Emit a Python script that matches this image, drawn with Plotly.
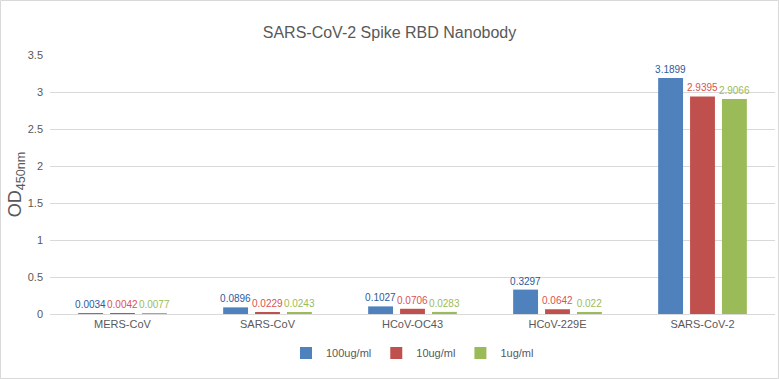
import plotly.graph_objects as go

categories = ["MERS-CoV", "SARS-CoV", "HCoV-OC43", "HCoV-229E", "SARS-CoV-2"]
series_names = ["100ug/ml", "10ug/ml", "1ug/ml"]
v100 = [0.0034, 0.0896, 0.1027, 0.3297, 3.1899]
v10 = [0.0042, 0.0229, 0.0706, 0.0642, 2.9395]
v1 = [0.0077, 0.0243, 0.0283, 0.022, 2.9066]
labels100 = ["0.0034", "0.0896", "0.1027", "0.3297", "3.1899"]
labels10 = ["0.0042", "0.0229", "0.0706", "0.0642", "2.9395"]
labels1 = ["0.0077", "0.0243", "0.0283", "0.022", "2.9066"]
ytick_vals = [0, 0.5, 1, 1.5, 2, 2.5, 3, 3.5]
ytick_text = ["0", "0.5", "1", "1.5", "2", "2.5", "3", "3.5"]
colors = ["#4F81BD", "#C0504D", "#9BBB59"]
text_colors = ["#2E5A9C", "#D9534F", "#9BBB59"]

W, H = 779, 379
ml, mr, mt, mb = 50, 4, 55, 65
pw, ph = W - ml - mr, H - mt - mb

fig = go.Figure()
for name, vals, labs, c, tc in zip(series_names, [v100, v10, v1],
                                   [labels100, labels10, labels1], colors, text_colors):
    fig.add_trace(go.Bar(
        x=categories, y=vals, name=name, marker_color=c, marker_line_width=0,
        text=labs, textposition="outside", cliponaxis=False, constraintext="none",
        textfont=dict(color=tc, size=10, family="Liberation Sans"),
    ))

fig.update_layout(
    width=W, height=H,
    margin=dict(l=ml, r=mr, t=mt, b=mb),
    paper_bgcolor="white", plot_bgcolor="white",
    font=dict(family="Liberation Sans", color="#595959", size=11),
    title=dict(text="SARS-CoV-2 Spike RBD Nanobody", x=0.5, xanchor="center",
               y=1 - 32 / H, yanchor="middle", font=dict(size=16, color="#595959")),
    barmode="group", bargap=0.34, bargroupgap=0.22,
    legend=dict(orientation="h", x=0.5, xanchor="center", y=-(353 - 314) / ph,
                yanchor="middle", font=dict(size=11, color="#595959"),
                itemwidth=30, traceorder="normal"),
    showlegend=True,
)
fig.update_yaxes(range=[0, 3.5], tickvals=ytick_vals, ticktext=ytick_text,
                 showgrid=True, gridcolor="#D9D9D9",
                 gridwidth=1, zeroline=False, showline=False,
                 ticks="", ticklabelstandoff=6, tickfont=dict(size=11, color="#595959"),
                 title=dict(text="OD<sub>450nm</sub>", font=dict(size=18, color="#595959"),
                            standoff=0))
fig.update_xaxes(showline=True, linecolor="#D9D9D9", linewidth=1, ticks="",
                 tickfont=dict(size=11, color="#595959"))

fig.add_shape(type="rect", xref="paper", yref="paper",
              x0=-(ml - 0.5) / pw, x1=1 + (mr - 0.5) / pw,
              y0=-(mb - 0.5) / ph, y1=1 + (mt - 0.5) / ph,
              line=dict(color="#D9D9D9", width=1), layer="below")

fig.write_html("out.html", config={"displayModeBar": False},
               post_script="document.body.style.margin='0';document.body.style.overflow='hidden';")
